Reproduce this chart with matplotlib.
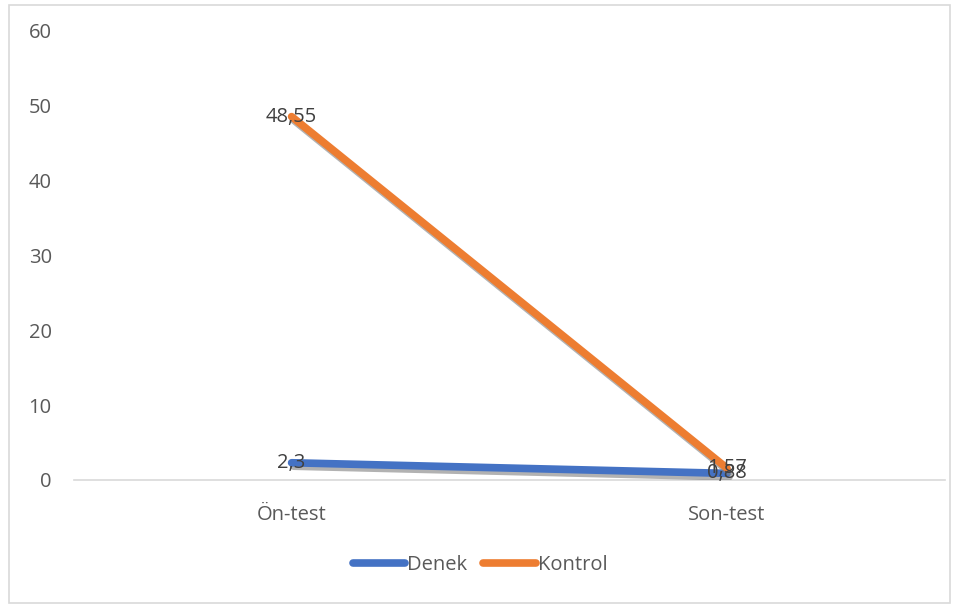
import matplotlib.pyplot as plt
import matplotlib.patheffects as pe
from matplotlib.patches import Rectangle

categories = ["Ön-test", "Son-test"]
denek = [2.3, 0.88]
kontrol = [48.55, 1.57]
denek_labels = ["2,3", "0,88"]
kontrol_labels = ["48,55", "1,57"]
yticks = [0, 10, 20, 30, 40, 50, 60]

plt.rcParams['font.family'] = ['Open Sans', 'DejaVu Sans']
txt = "#595959"
fs = 14.5

fig = plt.figure(figsize=(9.6, 6.06), dpi=100)
fig.patches.append(Rectangle((9 / 960, 1 - 603 / 606), 941 / 960, 598 / 606,
                             transform=fig.transFigure, fill=False,
                             edgecolor="#d9d9d9", lw=1.2))
ax = fig.add_axes([0.077, 0.208, 0.907, 0.741])

x = range(len(categories))
shadow = [pe.SimpleLineShadow(offset=(1.5, -2.5), shadow_color="#7f7f7f", alpha=0.6), pe.Normal()]
ax.plot(x, denek, color="#4472c4", lw=5.5, solid_capstyle="round",
        path_effects=shadow, zorder=3)
ax.plot(x, kontrol, color="#ed7d31", lw=5.5, solid_capstyle="round",
        path_effects=shadow, zorder=3)
# plain handles for the legend
ax.plot([], [], color="#4472c4", lw=5.5, solid_capstyle="round", label="Denek")
ax.plot([], [], color="#ed7d31", lw=5.5, solid_capstyle="round", label="Kontrol")

for i in x:
    ax.text(i, denek[i], denek_labels[i], ha="center", va="center",
            fontsize=fs, color="#404040", zorder=5)
    ax.text(i, kontrol[i], kontrol_labels[i], ha="center", va="center",
            fontsize=fs, color="#404040", zorder=5)

ax.set_xlim(-0.5, 1.5)
ax.set_ylim(0, 60)
ax.set_yticks(yticks)
ax.set_xticks(list(x))
ax.set_xticklabels(categories)
ax.tick_params(length=0, labelsize=fs, colors=txt)
ax.tick_params(axis="y", pad=16)
ax.tick_params(axis="x", pad=18)
for s in ["top", "right", "left"]:
    ax.spines[s].set_visible(False)
ax.spines["bottom"].set_color("#d9d9d9")
ax.spines["bottom"].set_linewidth(1.2)

leg = fig.legend(loc="center", bbox_to_anchor=(0.5, 1 - 565 / 606), ncol=2,
                 frameon=False, fontsize=fs, handlelength=2.6, handletextpad=0.1,
                 columnspacing=0.8)
for t in leg.get_texts():
    t.set_color(txt)

fig.savefig("out.png", dpi=100)
